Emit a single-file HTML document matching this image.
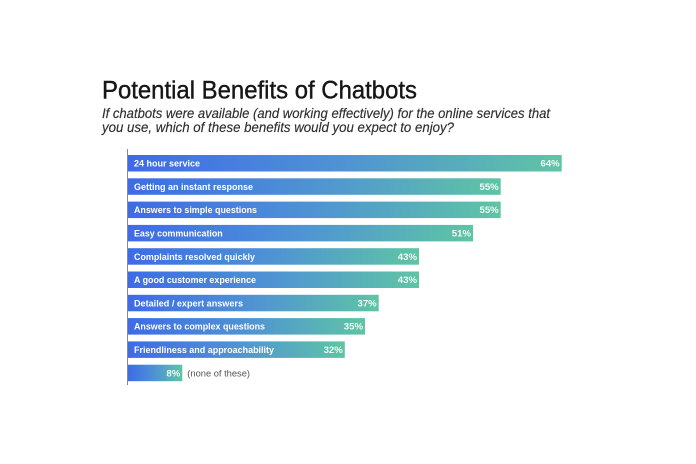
<!DOCTYPE html>
<html><head><meta charset="utf-8"><style>
html,body{margin:0;padding:0;background:#fff;}
svg{display:block;}
</style></head><body>
<svg width="696" height="464" viewBox="0 0 696 464" xmlns="http://www.w3.org/2000/svg" font-family="'Liberation Sans', Arial, sans-serif">
<defs>
<linearGradient id="g" x1="0" y1="0" x2="1" y2="0">
<stop offset="0" stop-color="#3e6be8"/>
<stop offset="0.5" stop-color="#4f93d4"/>
<stop offset="1" stop-color="#5ec5a4"/>
</linearGradient>
</defs>
<rect width="696" height="464" fill="#fff"/>
<text x="102" y="98.3" font-size="25" fill="#161616" stroke="#161616" stroke-width="0.4" textLength="315" lengthAdjust="spacingAndGlyphs">Potential Benefits of Chatbots</text>
<text x="102" y="118.2" font-size="14" font-style="italic" fill="#2e2e2e" stroke="#2e2e2e" stroke-width="0.15" textLength="448" lengthAdjust="spacingAndGlyphs">If chatbots were available (and working effectively) for the online services that</text>
<text x="102" y="131.8" font-size="14" font-style="italic" fill="#2e2e2e" stroke="#2e2e2e" stroke-width="0.15" textLength="352" lengthAdjust="spacingAndGlyphs">you use, which of these benefits would you expect to enjoy?</text>
<line x1="127.5" y1="149" x2="127.5" y2="385" stroke="#8a8a8a" stroke-width="1"/>
<g fill="url(#g)">
<rect x="128" y="155" width="433.7" height="16.5"/>
<rect x="128" y="178.3" width="372.7" height="16.5"/>
<rect x="128" y="201.6" width="372.7" height="16.5"/>
<rect x="128" y="224.9" width="345" height="16.5"/>
<rect x="128" y="248.2" width="291" height="16.5"/>
<rect x="128" y="271.5" width="291" height="16.5"/>
<rect x="128" y="294.8" width="250.7" height="16.5"/>
<rect x="128" y="318.1" width="237" height="16.5"/>
<rect x="128" y="341.4" width="216.8" height="16.5"/>
<rect x="128" y="364.7" width="54.3" height="16.5"/>
</g>
<g font-size="9.4" font-weight="bold" fill="#fff">
<text x="134" y="166.6" textLength="66" lengthAdjust="spacingAndGlyphs">24 hour service</text>
<text x="134" y="189.9" textLength="119" lengthAdjust="spacingAndGlyphs">Getting an instant response</text>
<text x="134" y="213.2" textLength="123" lengthAdjust="spacingAndGlyphs">Answers to simple questions</text>
<text x="134" y="236.5" textLength="88.7" lengthAdjust="spacingAndGlyphs">Easy communication</text>
<text x="134" y="259.8" textLength="121" lengthAdjust="spacingAndGlyphs">Complaints resolved quickly</text>
<text x="134" y="283.1" textLength="122" lengthAdjust="spacingAndGlyphs">A good customer experience</text>
<text x="134" y="306.4" textLength="109" lengthAdjust="spacingAndGlyphs">Detailed / expert answers</text>
<text x="134" y="329.7" textLength="131" lengthAdjust="spacingAndGlyphs">Answers to complex questions</text>
<text x="134" y="353" textLength="140" lengthAdjust="spacingAndGlyphs">Friendliness and approachability</text>
</g>
<g font-size="9.6" font-weight="bold" fill="#f2fbf7" text-anchor="end">
<text x="559.7" y="166.6">64%</text>
<text x="498.7" y="189.9">55%</text>
<text x="498.7" y="213.2">55%</text>
<text x="471" y="236.5">51%</text>
<text x="417" y="259.8">43%</text>
<text x="417" y="283.1">43%</text>
<text x="376.7" y="306.4">37%</text>
<text x="363" y="329.7">35%</text>
<text x="342.8" y="353">32%</text>
<text x="180.3" y="376.3">8%</text>
</g>
<text x="187.3" y="376.3" font-size="9.4" fill="#555" textLength="62.7" lengthAdjust="spacingAndGlyphs">(none of these)</text>
</svg>
</body></html>
